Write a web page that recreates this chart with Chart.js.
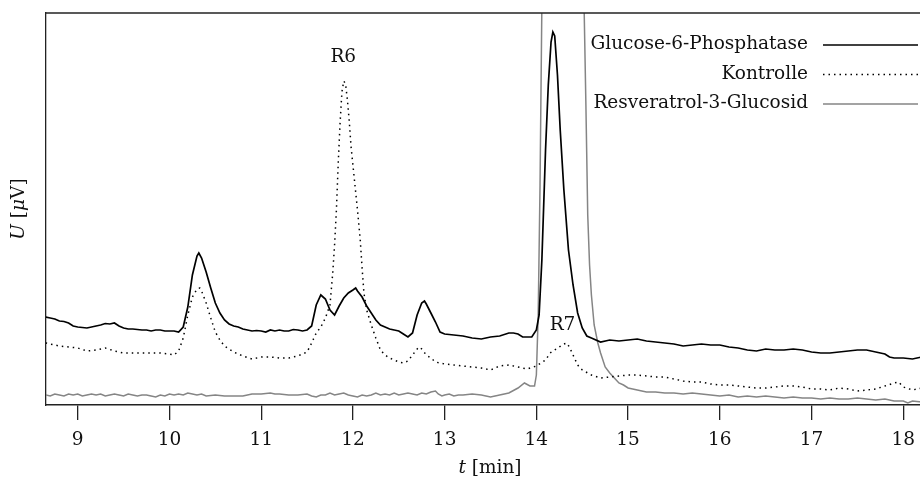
<!DOCTYPE html>
<html>
<head>
<meta charset="utf-8">
<script src="https://cdn.jsdelivr.net/npm/chart.js@4.4.1/dist/chart.umd.min.js"></script>
<style>
  html, body { margin: 0; padding: 0; background: #fff; overflow: hidden; }
  canvas { display: block; }
</style>
</head>
<body>
<canvas id="chromChart" width="934" height="477"></canvas>
<script>
// Retention time [min] and detector signal for each run
const g6pTime = [8.65, 8.7, 8.75, 8.8, 8.85, 8.9, 8.95, 9.0, 9.05, 9.1, 9.15, 9.2, 9.25, 9.3, 9.35, 9.4, 9.45, 9.5, 9.55, 9.6,
  9.65, 9.7, 9.75, 9.8, 9.85, 9.9, 9.95, 10.0, 10.05, 10.1, 10.15, 10.2, 10.25, 10.3, 10.32, 10.35, 10.4, 10.45, 10.5, 10.55,
  10.6, 10.65, 10.7, 10.75, 10.8, 10.85, 10.9, 10.95, 11.0, 11.05, 11.1, 11.15, 11.2, 11.25, 11.3, 11.35, 11.4, 11.45, 11.5, 11.55,
  11.6, 11.65, 11.7, 11.75, 11.8, 11.85, 11.9, 11.95, 12.0, 12.03, 12.05, 12.1, 12.15, 12.2, 12.25, 12.3, 12.35, 12.4, 12.45, 12.5,
  12.55, 12.6, 12.65, 12.7, 12.75, 12.78, 12.8, 12.85, 12.9, 12.95, 13.0, 13.1, 13.2, 13.3, 13.4, 13.5, 13.6, 13.7, 13.75, 13.8,
  13.85, 13.9, 13.95, 14.0, 14.03, 14.06, 14.1, 14.13, 14.16, 14.18, 14.2, 14.23, 14.26, 14.3, 14.35, 14.4, 14.45, 14.5, 14.55, 14.6,
  14.7, 14.8, 14.9, 15.0, 15.1, 15.2, 15.3, 15.4, 15.5, 15.6, 15.7, 15.8, 15.9, 16.0, 16.1, 16.2, 16.3, 16.4, 16.5, 16.6,
  16.7, 16.8, 16.9, 17.0, 17.1, 17.2, 17.3, 17.4, 17.5, 17.6, 17.7, 17.8, 17.85, 17.9, 18.0, 18.1, 18.2, 18.3, 18.35];
const g6pSignal = [88, 87, 86, 84, 83.5, 82, 79, 78, 77.5, 77, 78, 79, 80, 81.5, 81, 82, 79, 77, 76, 76,
  75.5, 75, 75, 74, 75, 75, 74, 74, 74, 73, 78, 98, 130, 149, 152, 147, 133, 117, 102, 92,
  85, 81, 79, 78, 76, 75, 74, 74.5, 74, 73, 75, 74, 75, 74, 74, 75.5, 75, 74, 75, 79,
  100, 110, 106, 95, 90, 99, 107, 112, 115, 117, 114, 108, 99, 92, 85, 80, 78, 76, 75, 74,
  71, 68, 72, 90, 102, 104, 101, 92, 83, 73, 71, 70, 69, 67, 66, 68, 69, 72, 72, 71,
  68, 68, 68, 75, 90, 145, 255, 320, 363, 373, 369, 330, 275, 215, 155, 120, 92, 77, 69, 67,
  63, 65, 64, 65, 66, 64, 63, 62, 61, 59, 60, 61, 60, 60, 58, 57, 55, 54, 56, 55,
  55, 56, 55, 53, 52, 52, 53, 54, 55, 55, 53, 51, 48, 47, 47, 46, 48, 47, 46];

const ctrlTime = [8.65, 8.7, 8.8, 8.9, 9.0, 9.1, 9.2, 9.3, 9.4, 9.5, 9.6, 9.7, 9.8, 9.9, 10.0, 10.05, 10.1, 10.15, 10.2, 10.25,
  10.3, 10.33, 10.35, 10.4, 10.45, 10.5, 10.55, 10.6, 10.7, 10.8, 10.9, 11.0, 11.1, 11.2, 11.3, 11.4, 11.5, 11.55, 11.6, 11.65,
  11.7, 11.75, 11.78, 11.8, 11.82, 11.84, 11.86, 11.88, 11.9, 11.92, 11.94, 11.96, 11.98, 12.0, 12.02, 12.05, 12.08, 12.1, 12.12, 12.15,
  12.2, 12.25, 12.3, 12.35, 12.4, 12.5, 12.55, 12.6, 12.65, 12.7, 12.73, 12.75, 12.8, 12.85, 12.9, 13.0, 13.1, 13.2, 13.3, 13.4,
  13.5, 13.6, 13.7, 13.8, 13.9, 14.0, 14.05, 14.1, 14.15, 14.2, 14.25, 14.3, 14.33, 14.36, 14.4, 14.45, 14.5, 14.6, 14.7, 14.8,
  14.9, 15.0, 15.1, 15.2, 15.3, 15.4, 15.5, 15.6, 15.7, 15.8, 15.9, 16.0, 16.1, 16.2, 16.3, 16.4, 16.5, 16.6, 16.7, 16.8,
  16.9, 17.0, 17.1, 17.2, 17.3, 17.4, 17.5, 17.6, 17.7, 17.8, 17.9, 17.95, 18.0, 18.1, 18.2, 18.3, 18.35];
const ctrlSignal = [62, 61, 59, 58, 57, 54, 55, 57, 54, 52, 52, 52, 52, 52, 51, 50, 54, 67, 90, 108,
  116, 117, 114, 102, 87, 73, 65, 59, 53, 49, 46, 48, 48, 47, 47, 49, 53, 62, 72, 78,
  87, 100, 132, 160, 195, 242, 282, 313, 324, 321, 305, 284, 258, 240, 222, 195, 165, 137, 112, 95,
  80, 67, 55, 50, 47, 43, 42, 44, 50, 56, 58, 56, 50, 47, 43, 41, 40, 39, 38, 37,
  35, 39, 40, 38, 36, 39, 42, 45, 52, 55, 58, 61, 62, 58, 50, 40, 35, 30, 27, 28,
  29, 30, 30, 29, 28, 28, 26, 24, 23, 23, 21, 20, 20, 19, 18, 17, 17, 18, 19, 19,
  18, 16, 16, 15, 17, 16, 14, 15, 16, 19, 22, 23, 18, 15, 17, 16, 17];

const r3gTime = [8.65, 8.7, 8.75, 8.8, 8.85, 8.9, 8.95, 9.0, 9.05, 9.1, 9.15, 9.2, 9.25, 9.3, 9.35, 9.4, 9.45, 9.5, 9.55, 9.6,
  9.65, 9.7, 9.75, 9.8, 9.85, 9.9, 9.95, 10.0, 10.05, 10.1, 10.15, 10.2, 10.25, 10.3, 10.35, 10.4, 10.5, 10.6, 10.7, 10.8,
  10.85, 10.9, 11.0, 11.1, 11.15, 11.2, 11.3, 11.4, 11.5, 11.55, 11.6, 11.65, 11.7, 11.75, 11.8, 11.85, 11.9, 11.95, 12.0, 12.05,
  12.1, 12.15, 12.2, 12.25, 12.3, 12.35, 12.4, 12.45, 12.5, 12.55, 12.6, 12.65, 12.7, 12.75, 12.8, 12.85, 12.9, 12.93, 12.97, 13.0,
  13.05, 13.1, 13.15, 13.2, 13.3, 13.4, 13.5, 13.6, 13.7, 13.8, 13.87, 13.93, 13.98, 14.0, 14.02, 14.04, 14.06, 14.08, 14.15, 14.3,
  14.45, 14.5, 14.52, 14.54, 14.56, 14.58, 14.6, 14.63, 14.67, 14.7, 14.75, 14.8, 14.85, 14.9, 14.95, 15.0, 15.05, 15.1, 15.2, 15.3,
  15.4, 15.5, 15.6, 15.7, 15.8, 15.9, 16.0, 16.1, 16.2, 16.3, 16.4, 16.5, 16.6, 16.7, 16.8, 16.9, 17.0, 17.1, 17.2, 17.3,
  17.4, 17.5, 17.6, 17.7, 17.8, 17.9, 18.0, 18.05, 18.1, 18.2, 18.3, 18.35];
const r3gSignal = [10, 9, 11, 10, 9, 11, 10, 11, 9, 10, 11, 10, 11, 9, 10, 11, 10, 9, 11, 10,
  9, 10, 10, 9, 8, 10, 9, 11, 10, 11, 10, 12, 11, 10, 11, 9, 10, 9, 9, 9,
  10, 11, 11, 12, 11, 11, 10, 10, 11, 9, 8, 10, 10, 12, 10, 11, 12, 10, 9, 8,
  10, 9, 10, 12, 10, 11, 10, 12, 10, 11, 12, 11, 10, 12, 11, 13, 14, 11, 9, 10,
  11, 9, 10, 10, 11, 10, 8, 10, 12, 17, 22, 19, 19, 30, 90, 220, 400, 600, 900, 1000,
  900, 600, 400, 300, 190, 140, 110, 80, 62, 52, 38, 32, 27, 22, 20, 17, 16, 15, 13, 13,
  12, 12, 11, 12, 11, 10, 9, 10, 8, 9, 8, 9, 8, 7, 8, 7, 7, 6, 7, 6,
  6, 7, 6, 5, 6, 4, 4, 2, 4, 3, 3, 4];

const seriesNames = ['Glucose-6-Phosphatase', 'Kontrolle', 'Resveratrol-3-Glucosid'];
const timeTicks = [9, 10, 11, 12, 13, 14, 15, 16, 17, 18];

// Peak names, anchored at (time, signal) of the text baseline
const peakNames = ['R6', 'R7'];
const peakTimes = [11.895, 14.285];
const peakLevels = [343, 75];

const serif = '"DejaVu Serif", "Liberation Serif", serif';
const fontSize = 18.5;
const axisColor = '#222';

function toPoints(ts, vs) {
  return ts.map((t, i) => ({ x: t, y: vs[i] }));
}

// Draw a run of text pieces, some italic, centred on cx
function drawMixed(ctx, parts, cx, cy) {
  const fonts = parts.map(p => `${p[1] ? 'italic ' : ''}${fontSize}px ${serif}`);
  const widths = parts.map((p, i) => { ctx.font = fonts[i]; return ctx.measureText(p[0]).width; });
  let x = cx - widths.reduce((a, b) => a + b, 0) / 2;
  ctx.textAlign = 'left';
  parts.forEach((p, i) => {
    ctx.font = fonts[i];
    ctx.fillText(p[0], x, cy);
    x += widths[i];
  });
}

const chromDecor = {
  id: 'chromDecor',
  afterDraw(chart) {
    const { ctx, chartArea: a, scales: { x, y } } = chart;
    ctx.save();
    ctx.fillStyle = '#111';

    // top edge of the frame
    ctx.strokeStyle = axisColor;
    ctx.lineWidth = 1.3;
    ctx.beginPath();
    ctx.moveTo(a.left, a.top);
    ctx.lineTo(a.right, a.top);
    ctx.stroke();

    // peak names
    ctx.font = `${fontSize}px ${serif}`;
    ctx.textAlign = 'center';
    ctx.textBaseline = 'alphabetic';
    peakNames.forEach((n, i) => {
      ctx.fillText(n, x.getPixelForValue(peakTimes[i]), y.getPixelForValue(peakLevels[i]));
    });

    // axis titles
    drawMixed(ctx, [['t', true], [' [min]', false]], (a.left + a.right) / 2, 473);
    ctx.save();
    ctx.translate(24, (a.top + a.bottom) / 2);
    ctx.rotate(-Math.PI / 2);
    drawMixed(ctx, [['U', true], [' [', false], ['μ', true], ['V]', false]], 0, 0);
    ctx.restore();

    // legend: label right-aligned, line sample on its right
    chart.data.datasets.forEach((ds, i) => {
      const rowY = 45 + i * 29.5;
      ctx.font = `${fontSize}px ${serif}`;
      ctx.textAlign = 'right';
      ctx.fillStyle = '#111';
      ctx.fillText(ds.label, 808, rowY + 4);
      ctx.strokeStyle = ds.borderColor;
      ctx.lineWidth = ds.borderWidth;
      ctx.setLineDash(ds.borderDash || []);
      ctx.beginPath();
      ctx.moveTo(823, rowY);
      ctx.lineTo(918, rowY);
      ctx.stroke();
      ctx.setLineDash([]);
    });
    ctx.restore();
  }
};

new Chart(document.getElementById('chromChart'), {
  type: 'line',
  data: {
    datasets: [
      {
        label: seriesNames[0],
        data: toPoints(g6pTime, g6pSignal),
        borderColor: '#000',
        borderWidth: 1.7,
      },
      {
        label: seriesNames[1],
        data: toPoints(ctrlTime, ctrlSignal),
        borderColor: '#000',
        borderWidth: 1.5,
        borderDash: [1.5, 4],
      },
      {
        label: seriesNames[2],
        data: toPoints(r3gTime, r3gSignal),
        borderColor: '#858585',
        borderWidth: 1.5,
      },
    ],
  },
  options: {
    responsive: false,
    animation: false,
    devicePixelRatio: 1,
    events: [],
    elements: { point: { radius: 0 }, line: { tension: 0 } },
    layout: { padding: { top: 13, right: 0, bottom: 0, left: 0 } },
    plugins: { legend: { display: false }, tooltip: { enabled: false } },
    scales: {
      x: {
        type: 'linear',
        min: 8.654,
        max: 18.335,
        afterBuildTicks: s => { s.ticks = timeTicks.map(v => ({ value: v })); },
        afterFit: s => { s.height = 72; },
        grid: { drawOnChartArea: false, drawTicks: true, tickLength: 15, color: axisColor, lineWidth: 1.3 },
        border: { display: true, color: axisColor, width: 1.5 },
        ticks: { color: '#111', font: { family: serif, size: fontSize }, padding: 9, maxRotation: 0, autoSkip: false },
      },
      y: {
        min: 0,
        max: 392,
        afterFit: s => { s.width = 46; },
        ticks: { display: false },
        grid: { display: false },
        border: { display: true, color: axisColor, width: 1.3 },
      },
    },
  },
  plugins: [chromDecor],
});
</script>
</body>
</html>
